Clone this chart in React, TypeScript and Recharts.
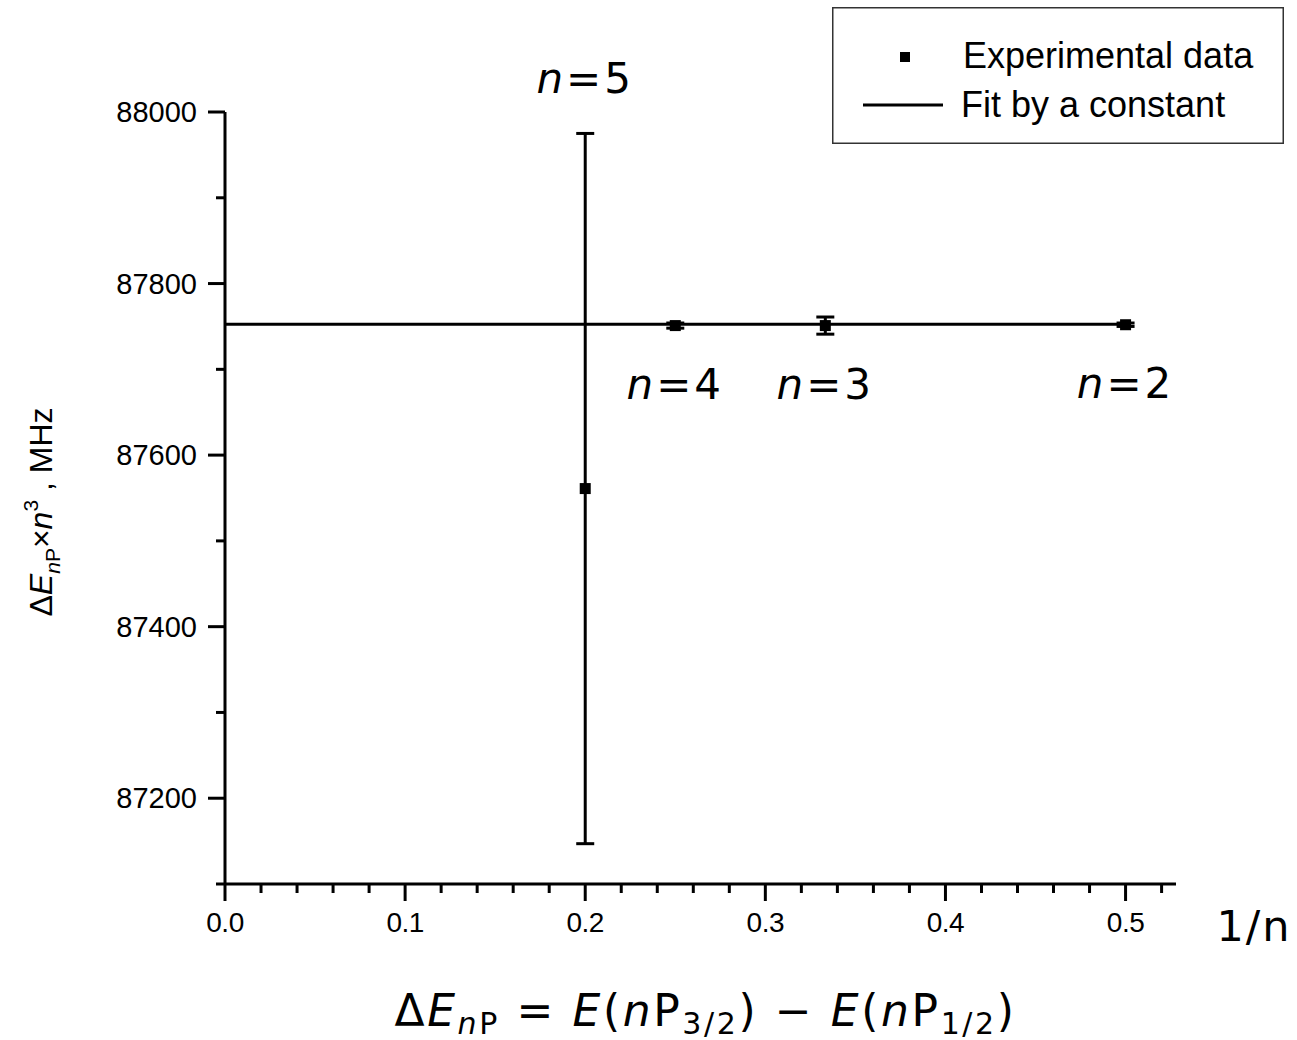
import {
  ComposedChart,
  Scatter,
  Line,
  XAxis,
  YAxis,
  ErrorBar,
  ReferenceDot,
  Legend,
  Label,
} from "recharts";

// 1/n values and measured fine-structure interval scaled by n^3
const invN = [0.2, 0.25, 0.3333, 0.5];
const nNames = ["5", "4", "3", "2"];
const shiftValues = [87561, 87751, 87751, 87752];
const shiftErrors = [414, 3, 10, 2];

// fit by a constant
const fitX = [0, 0.5];
const fitValue = 87752.5;

const xTicks = [
  0, 0.02, 0.04, 0.06, 0.08, 0.1, 0.12, 0.14, 0.16, 0.18, 0.2, 0.22, 0.24, 0.26,
  0.28, 0.3, 0.32, 0.34, 0.36, 0.38, 0.4, 0.42, 0.44, 0.46, 0.48, 0.5, 0.52,
];
const xMajor = [0, 0.1, 0.2, 0.3, 0.4, 0.5];
const yTicks = [87100, 87200, 87300, 87400, 87500, 87600, 87700, 87800, 87900, 88000];
const yMajor = [87200, 87400, 87600, 87800, 88000];

const points = invN.map((x, i) => ({
  x,
  y: shiftValues[i],
  err: shiftErrors[i],
  n: nNames[i],
}));
const fitData = fitX.map((x) => ({ x, y: fitValue }));

const isMajor = (v: number, list: number[]) => list.some((m) => Math.abs(m - v) < 1e-6);

const XTick = ({ x, y, payload }: any) => {
  const major = isMajor(payload.value, xMajor);
  return (
    <g>
      <line x1={x} x2={x} y1={y} y2={y + (major ? 17 : 9)} stroke="#000" strokeWidth={3} />
      {major && (
        <text
          x={x}
          y={y + 48}
          textAnchor="middle"
          fontFamily="'Liberation Sans', Arial, sans-serif"
          fontSize={28}
          letterSpacing={-0.5}
          fill="#000"
        >
          {payload.value.toFixed(1)}
        </text>
      )}
    </g>
  );
};

const YTick = ({ x, y, payload }: any) => {
  const major = isMajor(payload.value, yMajor);
  return (
    <g>
      <line x1={x} x2={x - (major ? 17 : 9)} y1={y} y2={y} stroke="#000" strokeWidth={3} />
      {major && (
        <text
          x={x - 28}
          y={y + 10}
          textAnchor="end"
          fontFamily="'Liberation Sans', Arial, sans-serif"
          fontSize={29}
          fill="#000"
        >
          {payload.value}
        </text>
      )}
    </g>
  );
};

const SquareDot = ({ cx, cy }: any) => (
  <rect x={cx - 5.5} y={cy - 5.5} width={11} height={11} fill="#000" />
);

const LegendBox = () => (
  <svg width={452} height={137}>
    <rect x={0.75} y={0.75} width={450.5} height={135.5} fill="#fff" stroke="#333" strokeWidth={1.5} />
    <rect x={68} y={45} width={10} height={10} fill="#000" />
    <text x={131} y={61} fontFamily="'Liberation Sans', Arial, sans-serif" fontSize={36} fill="#000">
      Experimental data
    </text>
    <line x1={31} x2={111} y1={98} y2={98} stroke="#000" strokeWidth={3} />
    <text x={129} y={110} fontFamily="'Liberation Sans', Arial, sans-serif" fontSize={36} fill="#000">
      Fit by a constant
    </text>
  </svg>
);

const verdana = "'DejaVu Sans', Verdana, sans-serif";

const nLabel = (name: string, dy: number) => (props: any) => {
  const { viewBox } = props;
  const cx = viewBox.x + viewBox.width / 2;
  const cy = viewBox.y + viewBox.height / 2;
  return (
    <text
      x={cx}
      y={cy + dy}
      textAnchor="middle"
      fontFamily={verdana}
      fontSize={42}
      letterSpacing={3}
      fill="#000"
    >
      <tspan fontStyle="italic">n</tspan>
      <tspan>={name}</tspan>
    </text>
  );
};

const XLabels = (props: any) => {
  const { viewBox } = props;
  const right = viewBox.x + viewBox.width;
  const mid = viewBox.x + viewBox.width / 2;
  return (
    <g fill="#000">
      <text x={right + 78} y={viewBox.y + 57} textAnchor="middle" fontFamily={verdana} fontSize={43} letterSpacing={2}>
        1/n
      </text>
      <text
        x={mid + 5}
        y={viewBox.y + 142}
        textAnchor="middle"
        fontFamily={verdana}
        fontSize={44}
        letterSpacing={2.6}
        style={{ whiteSpace: "pre" }}
      >
        <tspan>Δ</tspan>
        <tspan fontStyle="italic">E</tspan>
        <tspan fontSize={30} dy={8} fontStyle="italic">n</tspan>
        <tspan fontSize={30}>P</tspan>
        <tspan dy={-8}> = </tspan>
        <tspan fontStyle="italic">E</tspan>
        <tspan>(</tspan>
        <tspan fontStyle="italic">n</tspan>
        <tspan>P</tspan>
        <tspan fontSize={30} dy={8}>3/2</tspan>
        <tspan dy={-8}>) − </tspan>
        <tspan fontStyle="italic">E</tspan>
        <tspan>(</tspan>
        <tspan fontStyle="italic">n</tspan>
        <tspan>P</tspan>
        <tspan fontSize={30} dy={8}>1/2</tspan>
        <tspan dy={-8}>)</tspan>
      </text>
    </g>
  );
};

const YLabel = (props: any) => {
  const { viewBox } = props;
  const x = viewBox.x - 172;
  const y = viewBox.y + viewBox.height / 2 + 14;
  return (
    <text
      transform={`translate(${x},${y}) rotate(-90)`}
      textAnchor="middle"
      fontFamily="'Liberation Sans', Arial, sans-serif"
      fontSize={32}
      fill="#000"
      style={{ whiteSpace: "pre" }}
    >
      <tspan>Δ</tspan>
      <tspan fontStyle="italic">E</tspan>
      <tspan fontSize={21} dy={8} fontStyle="italic">n</tspan>
      <tspan fontSize={21}>P</tspan>
      <tspan dy={-8}>×</tspan>
      <tspan fontStyle="italic">n</tspan>
      <tspan fontSize={21} dy={-14}>3</tspan>
      <tspan dy={14}> , MHz</tspan>
    </text>
  );
};

export default function App() {
  return (
    <div style={{ position: "absolute", left: 0, top: 0, width: 1297, height: 1040, background: "#fff" }}>
      <ComposedChart
        width={1297}
        height={1040}
        margin={{ top: 112, right: 121, bottom: 155, left: 224 }}
      >
        <XAxis
          type="number"
          dataKey="x"
          domain={[0, 0.528]}
          ticks={xTicks}
          interval={0}
          tickSize={0}
          tickMargin={0}
          tickLine={false}
          tick={<XTick />}
          axisLine={{ stroke: "#000", strokeWidth: 3 }}
          height={1}
          allowDataOverflow
        >
          <Label content={<XLabels />} />
        </XAxis>
        <YAxis
          type="number"
          dataKey="y"
          domain={[87100, 88000]}
          ticks={yTicks}
          interval={0}
          tickSize={0}
          tickMargin={0}
          tickLine={false}
          tick={<YTick />}
          axisLine={{ stroke: "#000", strokeWidth: 3 }}
          width={1}
          allowDataOverflow
        >
          <Label content={<YLabel />} />
        </YAxis>
        <Legend
          layout="vertical"
          verticalAlign="middle"
          align="center"
          wrapperStyle={{ left: 832, top: 7, width: 452, height: 137 }}
          content={<LegendBox />}
        />
        <Line
          data={fitData}
          dataKey="y"
          stroke="#000"
          strokeWidth={3}
          dot={false}
          activeDot={false}
          isAnimationActive={false}
        />
        <Scatter data={points} dataKey="y" fill="#000" shape={<SquareDot />} isAnimationActive={false}>
          <ErrorBar dataKey="err" direction="y" width={9} stroke="#000" strokeWidth={3} />
        </Scatter>
        {points.map((p) => {
          const above = p.err > 100;
          return (
            <ReferenceDot
              key={p.n}
              x={p.x}
              y={above ? p.y + p.err : p.y}
              r={1}
              fill="none"
              stroke="none"
              label={{ content: nLabel(p.n, above ? -40 : 73) }}
            />
          );
        })}
      </ComposedChart>
    </div>
  );
}
